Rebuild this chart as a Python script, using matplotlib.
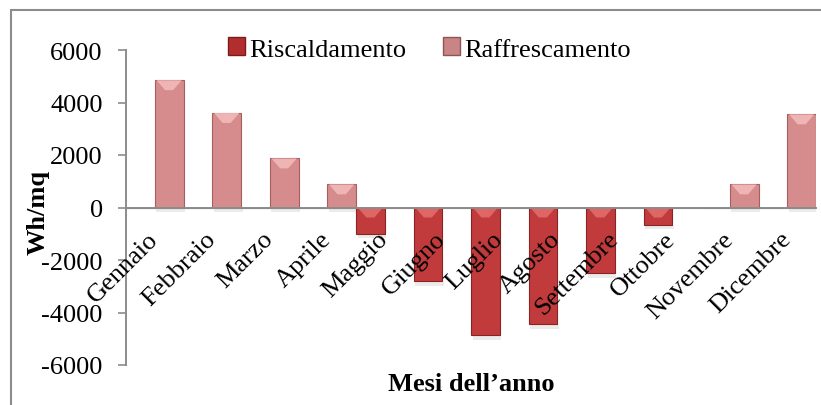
import matplotlib
matplotlib.use("Agg")
import matplotlib.pyplot as plt
import numpy as np
from matplotlib.patches import Patch, Rectangle, Polygon

months = ["Gennaio", "Febbraio", "Marzo", "Aprile", "Maggio", "Giugno",
          "Luglio", "Agosto", "Settembre", "Ottobre", "Novembre", "Dicembre"]
riscaldamento = [0, 0, 0, 0, -1000, -2800, -4850, -4450, -2500, -650, 0, 0]
raffrescamento = [4850, 3600, 1870, 880, 0, 0, 0, 0, 0, 0, 880, 3550]
series_names = ["Riscaldamento", "Raffrescamento"]
yticks = [-6000, -4000, -2000, 0, 2000, 4000, 6000]

plt.rcParams['font.family'] = ['Liberation Serif', 'DejaVu Serif']

W, H = 821, 406
fig = plt.figure(figsize=(W / 100, H / 100), dpi=100)
ax = fig.add_axes([126 / W, 1 - 366 / H, (816 - 126) / W, (366 - 51) / H])

x = np.arange(len(months))
bw = 0.5
red_face, red_edge, red_cap = "#c23b3c", "#8a2323", "#e46a6a"
pink_face, pink_edge, pink_cap = "#d68b8d", "#a65f60", "#f2b9b9"

b1 = ax.bar(x - bw / 2, riscaldamento, width=bw, color=red_face,
            edgecolor=red_edge, linewidth=0.8, zorder=1.2)
b2 = ax.bar(x + bw / 2, raffrescamento, width=bw, color=pink_face,
            edgecolor=pink_edge, linewidth=0.8, zorder=1.2)

ax.set_xlim(-0.5, len(months) - 0.5)
ax.set_ylim(-6000, 6000)

# bevel caps and soft shadows derived from the drawn bars
cap_h = 380
for cont, capc in ((b1, red_cap), (b2, pink_cap)):
    for r in cont.patches:
        h = r.get_height()
        if h == 0:
            continue
        x0, w = r.get_x(), r.get_width()
        top = max(r.get_y(), r.get_y() + h)
        inset = w * 0.36
        poly = Polygon([(x0 + 0.03, top), (x0 + w - 0.03, top),
                        (x0 + w - inset, top - cap_h), (x0 + inset, top - cap_h)],
                       closed=True, facecolor=capc, edgecolor='none', zorder=1.3, alpha=0.9)
        ax.add_patch(poly)
        bot = min(r.get_y(), r.get_y() + h)
        sh = Rectangle((x0 + 0.03, bot - 180), w, 180, facecolor="#000000",
                       alpha=0.08, edgecolor='none', zorder=1.1)
        ax.add_patch(sh)

ax.spines['top'].set_visible(False)
ax.spines['right'].set_visible(False)
ax.spines['bottom'].set_position(('data', 0))
for s in ('left', 'bottom'):
    ax.spines[s].set_color('#8c8c8c')
    ax.spines[s].set_linewidth(1.4)
ax.spines['bottom'].set_zorder(5)

ax.set_yticks(yticks)
ax.set_yticklabels([str(v) for v in yticks], fontsize=19)
ax.tick_params(axis='y', length=5.8, width=1.2, color='#8c8c8c', pad=11)
ax.set_xticks(x)
ax.set_xticklabels(months, fontsize=19, rotation=45, ha='right', va='center',
                   rotation_mode='anchor')
ax.tick_params(axis='x', length=0, pad=20)
ax.xaxis.set_zorder(6)

fig.text(38 / W, 1 - 212 / H, "Wh/mq", rotation=90, fontsize=19, fontweight='bold',
         ha='center', va='center')
fig.text(471 / W, 1 - 385 / H, "Mesi dell\u2019anno", fontsize=19, fontweight='bold',
         ha='center', va='center')

handles = [Patch(facecolor="#b22e2e", edgecolor="#7a1c1c"),
           Patch(facecolor="#c98486", edgecolor="#8f5556")]
fig.legend(handles, series_names, loc='center left',
           bbox_to_anchor=(228 / W, 1 - 50 / H), ncol=2, frameon=False,
           fontsize=19, handlelength=0.65, handleheight=0.65, handletextpad=0.15,
           columnspacing=1.4, borderpad=0, borderaxespad=0)

fig.add_artist(Rectangle((11 / W, -0.1), 1.2, 1.1 - 11 / H + 0.0, transform=fig.transFigure,
                         facecolor='none', edgecolor='#8c8c8c', linewidth=1.5))

fig.savefig("out.png", dpi=100)
